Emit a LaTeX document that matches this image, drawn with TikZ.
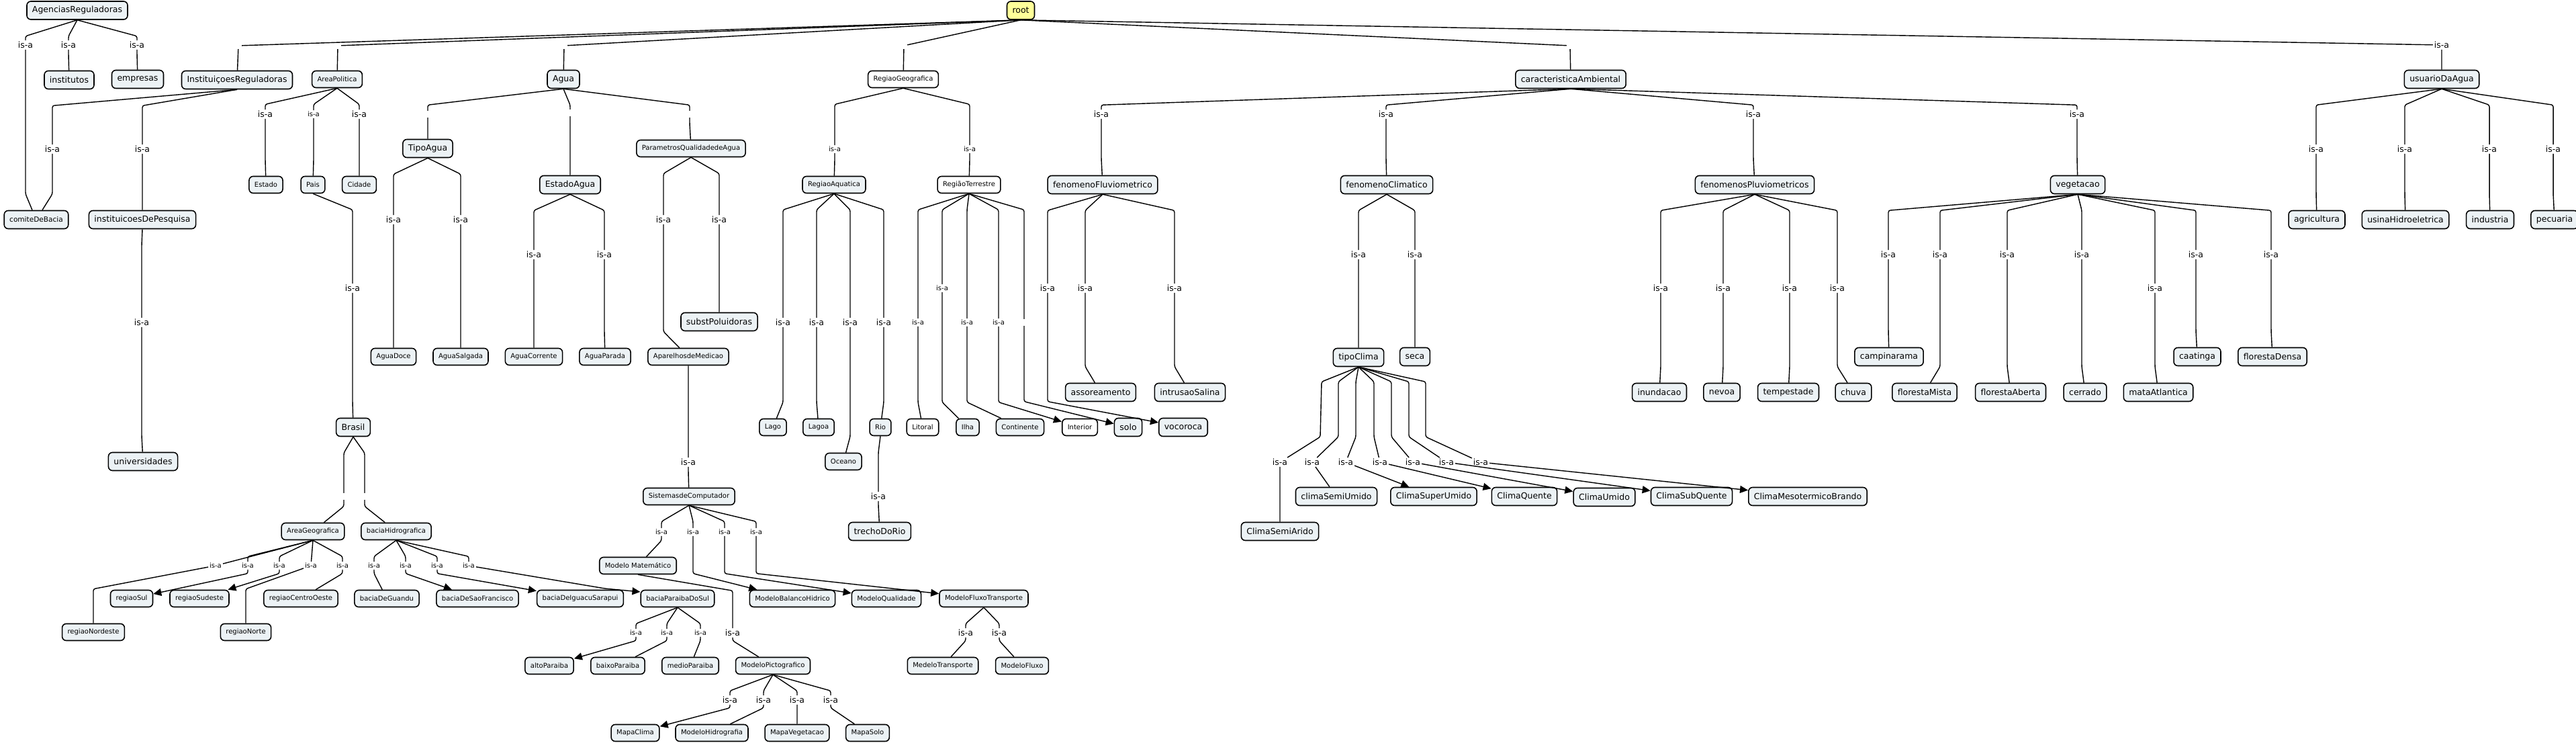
\documentclass[tikz,border=0pt]{standalone}
\usepackage{fontspec}
\setmainfont{DejaVu Sans}
\usetikzlibrary{arrows.meta,calc}
\definecolor{boxfill}{RGB}{236,242,245}
\definecolor{rootfill}{RGB}{255,255,153}
\newcommand{\lgfont}{\fontsize{3.55}{4.2}\selectfont}
\newcommand{\smfont}{\fontsize{2.85}{3.4}\selectfont}
\newcommand{\isalink}[4][]{\draw[conn,#1] (#2.south) -- ($(#2.south -| #3)+(0,-0.24)$) -- (#3) -- ($(#4.north -| #3)+(0,0.24)$) -- (#4);}
\begin{document}
\begin{tikzpicture}[cls/.style={draw,line width=0.45pt,rounded corners=0.06cm,fill=boxfill,font=\lgfont,inner xsep=0.08cm,inner ysep=0pt,minimum height=0.27cm},
clss/.style={cls,font=\smfont,minimum height=0.25cm},
clsw/.style={clss,fill=white},
isa/.style={font=\lgfont,inner sep=0.4pt,fill=white},
isas/.style={font=\smfont,inner sep=0.4pt,fill=white},
gapnode/.style={inner sep=0pt,minimum size=0.09cm},
conn/.style={line width=0.4pt,rounded corners=0.8pt},
arr/.style={-{Triangle[length=0.12cm,width=0.11cm]}}]
\useasboundingbox (0,0) rectangle (38.36,-11.06);

%top
\node[cls,fill=rootfill] (root) at (15.20,-0.155) {root};
\node[cls] (agencias) at (1.15,-0.155) {AgenciasReguladoras};
\node[cls] (institutos) at (1.03,-1.19) {institutos};
\node[cls] (empresas) at (2.05,-1.18) {empresas};
\node[cls] (instReg) at (3.53,-1.19) {InstituiçoesReguladoras};
\node[clss] (areaPol) at (5.02,-1.18) {AreaPolitica};
\node[cls] (agua) at (8.39,-1.18) {Agua};
\node[clsw] (regGeo) at (13.45,-1.18) {RegiaoGeografica};
\node[cls] (caracAmb) at (23.39,-1.18) {caracteristicaAmbiental};
\node[cls] (usuario) at (36.36,-1.18) {usuarioDaAgua};

\node[clss] (estado) at (3.96,-2.75) {Estado};
\node[clss] (pais) at (4.66,-2.75) {Pais};
\node[clss] (cidade) at (5.35,-2.75) {Cidade};
\node[cls] (tipoAgua) at (6.37,-2.21) {TipoAgua};
\node[cls] (estadoAgua) at (8.49,-2.75) {EstadoAgua};
\node[clss] (parametros) at (10.29,-2.21) {ParametrosQualidadedeAgua};
\node[clss] (regAqua) at (12.42,-2.75) {RegiaoAquatica};
\node[clsw] (regTerr) at (14.43,-2.75) {RegiãoTerrestre};
\node[cls] (fenFluv) at (16.42,-2.75) {fenomenoFluviometrico};
\node[cls] (fenClim) at (20.65,-2.75) {fenomenoClimatico};
\node[cls] (fenPluv) at (26.13,-2.75) {fenomenosPluviometricos};
\node[cls] (vegetacao) at (30.94,-2.75) {vegetacao};

\node[cls,font=\fontsize{3}{3.6}\selectfont] (comite) at (0.54,-3.27) {comiteDeBacia};
\node[cls] (instPesq) at (2.12,-3.27) {instituicoesDePesquisa};
\node[cls] (agricultura) at (34.50,-3.27) {agricultura};
\node[cls] (usina) at (35.82,-3.27) {usinaHidroeletrica};
\node[cls] (industria) at (37.08,-3.27) {industria};
\node[cls] (pecuaria) at (38.04,-3.27) {pecuaria};

\node[cls] (subst) at (10.71,-4.79) {substPoluidoras};
\node[clss] (aparelhos) at (10.25,-5.31) {AparelhosdeMedicao};
\node[clss] (aguaDoce) at (5.86,-5.31) {AguaDoce};
\node[clss] (aguaSalgada) at (6.86,-5.31) {AguaSalgada};
\node[clss] (aguaCorrente) at (7.95,-5.31) {AguaCorrente};
\node[clss] (aguaParada) at (9.01,-5.31) {AguaParada};
\node[cls] (tipoClima) at (20.23,-5.32) {tipoClima};
\node[cls] (seca) at (21.07,-5.31) {seca};
\node[cls] (campinarama) at (28.13,-5.31) {campinarama};
\node[cls] (caatinga) at (32.72,-5.31) {caatinga};
\node[cls] (florestaDensa) at (33.84,-5.31) {florestaDensa};

\node[cls] (assoreamento) at (16.39,-5.84) {assoreamento};
\node[cls] (intrusao) at (17.72,-5.84) {intrusaoSalina};
\node[cls] (inundacao) at (24.71,-5.84) {inundacao};
\node[cls] (nevoa) at (25.64,-5.84) {nevoa};
\node[cls] (tempestade) at (26.63,-5.84) {tempestade};
\node[cls] (chuva) at (27.60,-5.84) {chuva};
\node[cls] (florestaMista) at (28.66,-5.84) {florestaMista};
\node[cls] (florestaAberta) at (29.94,-5.84) {florestaAberta};
\node[cls] (cerrado) at (31.05,-5.84) {cerrado};
\node[cls] (mata) at (32.14,-5.84) {mataAtlantica};

\node[cls] (brasil) at (5.26,-6.36) {Brasil};
\node[clss] (lago) at (11.51,-6.36) {Lago};
\node[clss] (lagoa) at (12.19,-6.36) {Lagoa};
\node[clss] (rio) at (13.11,-6.36) {Rio};
\node[clsw] (litoral) at (13.74,-6.36) {Litoral};
\node[clss] (ilha) at (14.41,-6.36) {Ilha};
\node[clss] (continente) at (15.19,-6.36) {Continente};
\node[clsw] (interior) at (16.08,-6.36) {Interior};
\node[cls] (solo) at (16.80,-6.36) {solo};
\node[cls] (vocoroca) at (17.62,-6.36) {vocoroca};
\node[cls] (universidades) at (2.13,-6.87) {universidades};
\node[clss] (oceano) at (12.56,-6.87) {Oceano};

\node[clss] (sistemas) at (10.26,-7.39) {SistemasdeComputador};
\node[cls] (climaSemiUmido) at (19.90,-7.39) {climaSemiUmido};
\node[cls] (climaSuperUmido) at (21.35,-7.39) {ClimaSuperUmido};
\node[cls] (climaQuente) at (22.70,-7.39) {ClimaQuente};
\node[cls] (climaUmido) at (23.89,-7.40) {ClimaUmido};
\node[cls] (climaSubQuente) at (25.19,-7.39) {ClimaSubQuente};
\node[cls] (climaMeso) at (26.92,-7.39) {ClimaMesotermicoBrando};
\node[clss] (areaGeo) at (4.66,-7.91) {AreaGeografica};
\node[clss] (baciaHidro) at (5.90,-7.91) {baciaHidrografica};
\node[cls] (trecho) at (13.10,-7.91) {trechoDoRio};
\node[cls] (climaSemiArido) at (19.06,-7.91) {ClimaSemiArido};
\node[clss] (modeloMat) at (9.50,-8.42) {Modelo Matemático};

\node[clss] (regiaoSul) at (1.96,-8.91) {regiaoSul};
\node[clss] (regiaoSudeste) at (2.97,-8.91) {regiaoSudeste};
\node[clss] (regiaoCentroOeste) at (4.48,-8.91) {regiaoCentroOeste};
\node[clss] (baciaGuandu) at (5.76,-8.91) {baciaDeGuandu};
\node[clss] (baciaSaoFrancisco) at (7.11,-8.91) {baciaDeSaoFrancisco};
\node[clss] (baciaIguacu) at (8.64,-8.91) {baciaDeIguacuSarapui};
\node[clss] (baciaParaiba) at (10.09,-8.91) {baciaParaibaDoSul};
\node[clss] (modeloBalanco) at (11.80,-8.91) {ModeloBalancoHidrico};
\node[clss] (modeloQualidade) at (13.20,-8.91) {ModeloQualidade};
\node[clss] (modeloFluxoTransp) at (14.65,-8.91) {ModeloFluxoTransporte};
\node[clss] (regiaoNordeste) at (1.39,-9.41) {regiaoNordeste};
\node[clss] (regiaoNorte) at (3.66,-9.41) {regiaoNorte};
\node[clss] (altoParaiba) at (8.18,-9.91) {altoParaiba};
\node[clss] (baixoParaiba) at (9.20,-9.91) {baixoParaiba};
\node[clss] (medioParaiba) at (10.28,-9.91) {medioParaiba};
\node[clss] (modeloPicto) at (11.51,-9.91) {ModeloPictografico};
\node[clss] (modeloTransp) at (14.04,-9.91) {MedeloTransporte};
\node[clss] (modeloFluxo) at (15.22,-9.91) {ModeloFluxo};
\node[clss] (mapaClima) at (9.46,-10.91) {MapaClima};
\node[clss] (modeloHidro) at (10.60,-10.91) {ModeloHidrografia};
\node[clss] (mapaVeg) at (11.87,-10.91) {MapaVegetacao};
\node[clss] (mapaSolo) at (12.92,-10.91) {MapaSolo};

%is-a labels
\node[isa] (iComite1) at (0.38,-0.67) {is-a};
\node[isa] (iInstitutos) at (1.02,-0.67) {is-a};
\node[isa] (iEmpresas) at (2.04,-0.67) {is-a};
\node[gapnode] (gInstReg) at (3.55,-0.68) {};
\node[gapnode] (gAreaPol) at (5.03,-0.68) {};
\node[gapnode] (gAgua) at (8.40,-0.68) {};
\node[gapnode] (gRegGeo) at (13.46,-0.68) {};
\node[gapnode] (gCarac) at (23.38,-0.68) {};
\node[isa] (iUsuario) at (36.36,-0.67) {is-a};
\node[isa] (iComite2) at (0.78,-2.22) {is-a};
\node[isa] (iInstPesq) at (2.12,-2.22) {is-a};
\node[isa] (iUniv) at (2.11,-4.80) {is-a};
\node[isa] (iEstado) at (3.95,-1.70) {is-a};
\node[isas] (iPais) at (4.67,-1.70) {is-a};
\node[isa] (iCidade) at (5.35,-1.70) {is-a};
\node[isa] (iBrasil) at (5.25,-4.29) {is-a};
\node[gapnode] (gAreaGeo) at (5.12,-7.39) {};
\node[gapnode] (gBaciaHidro) at (5.43,-7.39) {};
\node[isas] (iNordeste) at (3.21,-8.42) {is-a};
\node[isas] (iSul) at (3.69,-8.42) {is-a};
\node[isas] (iSudeste) at (4.16,-8.42) {is-a};
\node[isas] (iNorte) at (4.63,-8.42) {is-a};
\node[isas] (iCentroOeste) at (5.10,-8.42) {is-a};
\node[isas] (iGuandu) at (5.57,-8.42) {is-a};
\node[isas] (iSaoFrancisco) at (6.04,-8.42) {is-a};
\node[isas] (iIguacu) at (6.51,-8.42) {is-a};
\node[isas] (iParaiba) at (6.98,-8.42) {is-a};
\node[gapnode] (gTipoAgua) at (6.37,-1.70) {};
\node[gapnode] (gEstadoAgua) at (8.49,-1.68) {};
\node[gapnode] (gParametros) at (10.27,-1.70) {};
\node[isa] (iAguaDoce) at (5.86,-3.27) {is-a};
\node[isa] (iAguaSalgada) at (6.86,-3.27) {is-a};
\node[isa] (iAguaCorrente) at (7.95,-3.79) {is-a};
\node[isa] (iAguaParada) at (9.00,-3.79) {is-a};
\node[isa] (iAparelhos) at (9.88,-3.27) {is-a};
\node[isa] (iSubst) at (10.71,-3.27) {is-a};
\node[isa] (iSistemas) at (10.25,-6.88) {is-a};
\node[isas] (iModeloMat) at (9.85,-7.92) {is-a};
\node[isas] (iBalanco) at (10.32,-7.92) {is-a};
\node[isas] (iQualidade) at (10.79,-7.92) {is-a};
\node[isas] (iFluxoTransp) at (11.26,-7.92) {is-a};
\node[isa] (iPicto) at (10.91,-9.42) {is-a};
\node[isas] (iAlto) at (9.47,-9.42) {is-a};
\node[isas] (iBaixo) at (9.93,-9.42) {is-a};
\node[isas] (iMedio) at (10.43,-9.42) {is-a};
\node[isa] (iTransp) at (14.38,-9.42) {is-a};
\node[isa] (iFluxo) at (14.88,-9.42) {is-a};
\node[isa] (iMapaClima) at (10.87,-10.42) {is-a};
\node[isa] (iModeloHidro) at (11.37,-10.42) {is-a};
\node[isa] (iMapaVeg) at (11.87,-10.42) {is-a};
\node[isa] (iMapaSolo) at (12.37,-10.42) {is-a};
\node[isas] (iRegAqua) at (12.43,-2.22) {is-a};
\node[isas] (iRegTerr) at (14.44,-2.22) {is-a};
\node[isa] (iLago) at (11.66,-4.80) {is-a};
\node[isa] (iLagoa) at (12.16,-4.80) {is-a};
\node[isa] (iOceano) at (12.66,-4.80) {is-a};
\node[isa] (iRio) at (13.16,-4.80) {is-a};
\node[isa] (iTrecho) at (13.08,-7.39) {is-a};
\node[isas] (iLitoral) at (13.67,-4.80) {is-a};
\node[isas] (iIlha) at (14.03,-4.29) {is-a};
\node[isas] (iContinente) at (14.40,-4.80) {is-a};
\node[isas] (iInterior) at (14.87,-4.80) {is-a};
\node[gapnode] (gSolo) at (15.25,-4.80) {};
\node[isa] (iVocoroca) at (15.60,-4.29) {is-a};
\node[isa] (iAssor) at (16.16,-4.29) {is-a};
\node[isa] (iIntrusao) at (17.49,-4.29) {is-a};
\node[isa] (iFenFluv) at (16.40,-1.70) {is-a};
\node[isa] (iFenClim) at (20.64,-1.70) {is-a};
\node[isa] (iFenPluv) at (26.11,-1.70) {is-a};
\node[isa] (iVeg) at (30.93,-1.70) {is-a};
\node[isa] (iTipoClima) at (20.23,-3.79) {is-a};
\node[isa] (iSeca) at (21.07,-3.79) {is-a};
\node[isa] (iSemiArido) at (19.06,-6.88) {is-a};
\node[isa] (iSemiUmido) at (19.54,-6.88) {is-a};
\node[isa] (iSuperUmido) at (20.04,-6.88) {is-a};
\node[isa] (iQuente) at (20.55,-6.88) {is-a};
\node[isa] (iUmido) at (21.04,-6.88) {is-a};
\node[isa] (iSubQuente) at (21.54,-6.88) {is-a};
\node[isa] (iMeso) at (22.05,-6.88) {is-a};
\node[isa] (iInundacao) at (24.73,-4.29) {is-a};
\node[isa] (iNevoa) at (25.66,-4.29) {is-a};
\node[isa] (iTempestade) at (26.65,-4.29) {is-a};
\node[isa] (iChuva) at (27.36,-4.29) {is-a};
\node[isa] (iCampinarama) at (28.12,-3.79) {is-a};
\node[isa] (iFlorestaMista) at (28.89,-3.79) {is-a};
\node[isa] (iFlorestaAberta) at (29.89,-3.79) {is-a};
\node[isa] (iCerrado) at (31.00,-3.79) {is-a};
\node[isa] (iMata) at (32.09,-4.29) {is-a};
\node[isa] (iCaatinga) at (32.70,-3.79) {is-a};
\node[isa] (iFlorestaDensa) at (33.82,-3.79) {is-a};
\node[isa] (iAgricultura) at (34.49,-2.22) {is-a};
\node[isa] (iUsina) at (35.81,-2.22) {is-a};
\node[isa] (iIndustria) at (37.07,-2.22) {is-a};
\node[isa] (iPecuaria) at (38.02,-2.22) {is-a};

%root
\draw[conn] (root.south) -- (gInstReg) -- (instReg);
\draw[conn] (root.south) -- (gAreaPol) -- (areaPol);
\draw[conn] (root.south) -- (gAgua) -- (agua);
\draw[conn] (root.south) -- (gRegGeo) -- (regGeo);
\draw[conn] (root.south) -- (gCarac) -- (caracAmb);
\draw[conn] (root.south) -- (iUsuario) -- (usuario);

\isalink{agencias}{iComite1}{comite}
\isalink{agencias}{iInstitutos}{institutos}
\isalink{agencias}{iEmpresas}{empresas}
\isalink{instReg}{iComite2}{comite}
\isalink{instReg}{iInstPesq}{instPesq}
\isalink{instPesq}{iUniv}{universidades}

%AreaPolitica
\isalink{areaPol}{iEstado}{estado}
\isalink{areaPol}{iPais}{pais}
\isalink{areaPol}{iCidade}{cidade}
\isalink{pais}{iBrasil}{brasil}
\isalink{brasil}{gAreaGeo}{areaGeo}
\isalink{brasil}{gBaciaHidro}{baciaHidro}
\draw[conn] (areaGeo.south) -- (iNordeste) -- ($(regiaoNordeste.north)+(0,0.51)$) -- (regiaoNordeste);
\isalink[arr]{areaGeo}{iSul}{regiaoSul}
\isalink[arr]{areaGeo}{iSudeste}{regiaoSudeste}
\draw[conn] (areaGeo.south) -- (iNorte) -- ($(regiaoNorte.north)+(0,0.51)$) -- (regiaoNorte);
\isalink{areaGeo}{iCentroOeste}{regiaoCentroOeste}
\isalink{baciaHidro}{iGuandu}{baciaGuandu}
\isalink[arr]{baciaHidro}{iSaoFrancisco}{baciaSaoFrancisco}
\isalink[arr]{baciaHidro}{iIguacu}{baciaIguacu}
\draw[conn,arr] (baciaHidro.south) -- ($(baciaHidro.south -| iParaiba)+(0,-0.24)$) -- (iParaiba) -- ($(baciaParaiba.west)+(-0.53,0.15)$) -- ($(baciaParaiba.west)+(0,0.1)$);
\isalink[arr]{baciaParaiba}{iAlto}{altoParaiba}
\isalink{baciaParaiba}{iBaixo}{baixoParaiba}
\isalink{baciaParaiba}{iMedio}{medioParaiba}

%Agua
\isalink{agua}{gTipoAgua}{tipoAgua}
\isalink{agua}{gEstadoAgua}{estadoAgua}
\isalink{agua}{gParametros}{parametros}
\isalink{tipoAgua}{iAguaDoce}{aguaDoce}
\isalink{tipoAgua}{iAguaSalgada}{aguaSalgada}
\isalink{estadoAgua}{iAguaCorrente}{aguaCorrente}
\isalink{estadoAgua}{iAguaParada}{aguaParada}
\isalink{parametros}{iAparelhos}{aparelhos}
\isalink{parametros}{iSubst}{subst}
\isalink{aparelhos}{iSistemas}{sistemas}
\isalink{sistemas}{iModeloMat}{modeloMat}
\isalink[arr]{sistemas}{iBalanco}{modeloBalanco}
\isalink[arr]{sistemas}{iQualidade}{modeloQualidade}
\isalink[arr]{sistemas}{iFluxoTransp}{modeloFluxoTransp}
\isalink{modeloMat}{iPicto}{modeloPicto}
\isalink{modeloFluxoTransp}{iTransp}{modeloTransp}
\isalink{modeloFluxoTransp}{iFluxo}{modeloFluxo}
\isalink[arr]{modeloPicto}{iMapaClima}{mapaClima}
\isalink{modeloPicto}{iModeloHidro}{modeloHidro}
\isalink{modeloPicto}{iMapaVeg}{mapaVeg}
\isalink{modeloPicto}{iMapaSolo}{mapaSolo}

%RegiaoGeografica
\isalink{regGeo}{iRegAqua}{regAqua}
\isalink{regGeo}{iRegTerr}{regTerr}
\isalink{regAqua}{iLago}{lago}
\isalink{regAqua}{iLagoa}{lagoa}
\isalink{regAqua}{iOceano}{oceano}
\isalink{regAqua}{iRio}{rio}
\isalink{rio}{iTrecho}{trecho}
\isalink{regTerr}{iLitoral}{litoral}
\isalink{regTerr}{iIlha}{ilha}
\isalink{regTerr}{iContinente}{continente}
\isalink[arr]{regTerr}{iInterior}{interior}
\isalink[arr]{regTerr}{gSolo}{solo}

%caracteristicaAmbiental
\isalink{caracAmb}{iFenFluv}{fenFluv}
\isalink{caracAmb}{iFenClim}{fenClim}
\isalink{caracAmb}{iFenPluv}{fenPluv}
\isalink{caracAmb}{iVeg}{vegetacao}
\isalink[arr]{fenFluv}{iVocoroca}{vocoroca}
\isalink{fenFluv}{iAssor}{assoreamento}
\isalink{fenFluv}{iIntrusao}{intrusao}
\isalink{fenClim}{iTipoClima}{tipoClima}
\isalink{fenClim}{iSeca}{seca}
\draw[conn] (tipoClima.south) -- ++(-0.55,-0.22) -- ++(-0.02,-0.82) -- (iSemiArido) -- (climaSemiArido);
\draw[conn] (tipoClima.south) -- ++(-0.30,-0.22) -- ++(0,-0.82) -- (iSemiUmido) -- (climaSemiUmido);
\draw[conn,arr] (tipoClima.south) -- ++(-0.04,-0.22) -- ++(0,-0.82) -- (iSuperUmido) -- (climaSuperUmido);
\draw[conn,arr] (tipoClima.south) -- ++(0.23,-0.22) -- ++(0,-0.82) -- (iQuente) -- (climaQuente);
\draw[conn,arr] (tipoClima.south) -- ++(0.49,-0.22) -- ++(0,-0.82) -- (iUmido) -- (climaUmido);
\draw[conn,arr] (tipoClima.south) -- ++(0.75,-0.22) -- ++(0,-0.82) -- (iSubQuente) -- (climaSubQuente);
\draw[conn,arr] (tipoClima.south) -- ++(1.00,-0.22) -- ++(0,-0.82) -- (iMeso) -- (climaMeso);
\isalink{fenPluv}{iInundacao}{inundacao}
\isalink{fenPluv}{iNevoa}{nevoa}
\isalink{fenPluv}{iTempestade}{tempestade}
\isalink{fenPluv}{iChuva}{chuva}
\isalink{vegetacao}{iCampinarama}{campinarama}
\isalink{vegetacao}{iFlorestaMista}{florestaMista}
\isalink{vegetacao}{iFlorestaAberta}{florestaAberta}
\isalink{vegetacao}{iCerrado}{cerrado}
\isalink{vegetacao}{iMata}{mata}
\isalink{vegetacao}{iCaatinga}{caatinga}
\isalink{vegetacao}{iFlorestaDensa}{florestaDensa}

%usuarioDaAgua
\isalink{usuario}{iAgricultura}{agricultura}
\isalink{usuario}{iUsina}{usina}
\isalink{usuario}{iIndustria}{industria}
\isalink{usuario}{iPecuaria}{pecuaria}
\end{tikzpicture}
\end{document}
